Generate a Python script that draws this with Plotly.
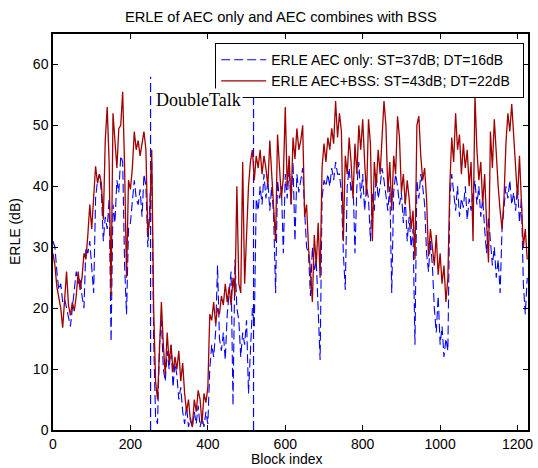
import plotly.graph_objects as go

# ---- data (one value every 5 blocks, blocks 0..1225) ----
block_step = 5

erle_aec_bss = [
    29, 27, 23.5, 22, 20, 16.8, 22, 26, 20.5, 18.8,
    21, 19.5, 22, 26, 23, 25, 29, 28, 32, 37,
    33, 39, 43.3, 40.5, 42, 40.5, 34.5, 47.5, 53, 44,
    22, 52, 47.5, 43, 49.5, 50, 55.5, 43, 25, 41,
    39.5, 43, 49, 46, 47.5, 45, 47, 49, 46, 32,
    35, 46, 20, 8, 5, 12, 21, 14, 9, 16,
    11, 14, 9.5, 12, 10, 13, 8, 11, 6, 3,
    5, 1.5, 0.5, 5, 3, 6.5, 5, 1, 6, 4.5,
    7, 19, 18, 21, 17.5, 20, 19, 22, 20.5, 24,
    21, 23.5, 20.5, 25, 22, 40, 24, 22.5, 44, 24,
    33, 40, 44, 46, 41, 45, 43, 46, 42, 45,
    43, 40, 47.5, 42, 37, 31, 48.5, 42, 38, 41.5,
    53, 40, 45, 37, 48, 44.5, 49.5, 46, 47.5, 50,
    35, 37, 30, 26, 21, 32, 27, 34, 25, 43,
    47, 44, 48, 46, 49.5, 47, 54, 48, 52, 49,
    31, 45, 42, 48, 44, 38, 47, 42, 50, 46,
    51, 44, 38.5, 51, 47, 31, 44, 40, 46, 42,
    49, 54, 50, 39, 44, 36, 45, 42, 51.5, 48,
    39, 42, 37, 41, 38, 33, 36, 28, 50, 51.5,
    45, 41, 43, 38, 28.5, 33, 30, 27, 32, 25.5,
    29, 24, 27, 21, 25, 40, 48, 44, 52, 46,
    48.5, 42, 47, 43, 46, 40, 44, 31, 55, 46,
    41, 44, 37, 42, 34, 27.5, 49, 43, 51, 45,
    40, 36, 33, 38, 47, 52, 49, 53.5, 48, 43,
    38, 45, 37, 30, 33, 28,
]

erle_aec_only = [
    31, 30, 26, 23, 24, 21, 21.5, 20, 18.5, 17,
    20, 23, 26, 24, 25, 22, 20, 30, 29, 31,
    26, 22.5, 38, 41, 42, 39, 31, 35, 33, 38,
    14.5, 37, 34, 41, 39, 45, 44, 27, 19, 33,
    34, 37, 41, 38, 37, 39.5, 35, 42, 40, 30,
    38, 44, 15, 2, 1, 14, 18, 10, 8, 13,
    10, 14, 7, 11, 9, 5, 7, 3, 1, 4,
    0.5, 2, 0.5, 3, 1, 4, 0.5, 2, 0.5, 3,
    1, 10, 14, 12, 16, 27, 15, 13, 16, 11.5,
    19, 22, 26, 4, 28, 20, 18, 12, 16, 14,
    18, 6, 12, 20, 17, 38, 36, 40, 37, 42,
    38, 41, 36, 40, 35, 22.5, 41, 38, 40, 29,
    42, 38, 43, 37, 44, 31, 42, 39, 41, 43,
    36, 30, 29, 22, 30, 26, 28, 20, 11.5, 38,
    41, 40, 42, 40, 43, 41, 44, 42, 42, 39,
    29, 23, 40, 43, 39, 41, 29, 40, 44, 38,
    42, 36, 40, 38, 31, 39, 36, 42, 38, 40,
    43, 41, 38, 36, 40, 22.5, 39, 42, 40, 37,
    39, 34, 38, 31, 35, 30, 33, 14, 41, 38,
    42, 40, 37, 29, 26, 31, 27, 20, 16, 22,
    14, 17, 12, 15, 13, 38, 42, 39, 36, 40,
    35, 38, 36.5, 40, 34.5, 38, 36, 39, 41, 37,
    40, 35, 38, 33, 29, 35, 31, 27, 30, 25,
    28, 22.5, 33, 37, 40, 38, 41, 37, 39, 36,
    40, 34, 38, 24, 19, 25,
]

blocks = [i * block_step for i in range(len(erle_aec_bss))]

# double-talk boundary markers
dt_marker_blocks = [252, 518]
dt_marker_top = 58
dt_label = "DoubleTalk"
dt_label_pos = (377, 54.2)

x_ticks = [0, 200, 400, 600, 800, 1000, 1200]
y_ticks = [0, 10, 20, 30, 40, 50, 60]

name_aec = "ERLE AEC only: ST=37dB; DT=16dB&nbsp;&nbsp;"
name_bss = "ERLE AEC+BSS: ST=43dB; DT=22dB&nbsp;&nbsp;"

BLUE = "#0000ff"
RED = "#a00000"
FONT = "Liberation Sans, Arial, Helvetica, sans-serif"

fig = go.Figure()

mx, my = [], []
for b in dt_marker_blocks:
    mx += [b, b, None]
    my += [0, dt_marker_top, None]
fig.add_trace(go.Scatter(x=mx, y=my, mode="lines", showlegend=False,
                         hoverinfo="skip",
                         line=dict(color=BLUE, width=1.2, dash="9px,4px")))

fig.add_trace(go.Scatter(x=blocks, y=erle_aec_only, mode="lines", name=name_aec,
                         line=dict(color=BLUE, width=1.1, dash="9px,4px")))
fig.add_trace(go.Scatter(x=blocks, y=erle_aec_bss, mode="lines", name=name_bss,
                         line=dict(color=RED, width=1.3)))

axis_common = dict(
    showline=True, linecolor="black", linewidth=1.5, mirror="ticks",
    ticks="inside", ticklen=5, tickcolor="black", tickwidth=1,
    showgrid=False, zeroline=False, automargin=False,
    tickfont=dict(family=FONT, size=14, color="black"),
)

fig.update_xaxes(range=[0, 1227], tickvals=x_ticks, **axis_common)
fig.update_yaxes(range=[0, 65], tickvals=y_ticks, **axis_common)

# axis titles
fig.add_annotation(x=0.4926, y=-0.0732, xref="paper", yref="paper",
                   text="Block index", showarrow=False,
                   xanchor="center", yanchor="middle",
                   font=dict(family=FONT, size=14, color="black"))
fig.add_annotation(x=-0.08, y=0.5, xref="paper", yref="paper",
                   text="ERLE (dB)", showarrow=False, textangle=-90,
                   xanchor="center", yanchor="middle",
                   font=dict(family=FONT, size=14, color="black"))

fig.add_annotation(x=dt_label_pos[0], y=dt_label_pos[1], xref="x", yref="y",
                   text=dt_label, showarrow=False, bgcolor="white",
                   font=dict(family="Liberation Serif, Times New Roman, serif", size=18, color="black"))

fig.update_layout(
    width=538, height=468,
    margin=dict(l=53, r=10, t=34, b=38, autoexpand=False),
    paper_bgcolor="white", plot_bgcolor="white",
    font=dict(family=FONT, size=14, color="black"),
    title=dict(text="ERLE of AEC only and AEC combines with BSS",
               x=0.522, xref="container", xanchor="center",
               y=1 - 17 / 468, yref="container", yanchor="middle",
               font=dict(family=FONT, size=14.7, color="black")),
    legend=dict(x=0.992, y=0.977, xanchor="right", yanchor="top",
                bgcolor="white", bordercolor="black", borderwidth=1,
                font=dict(family=FONT, size=14, color="black"),
                itemwidth=45, tracegroupgap=0),
    showlegend=True,
)

fig.write_html("out.html", config={"displayModeBar": False},
               post_script="document.body.style.margin='0px';")
